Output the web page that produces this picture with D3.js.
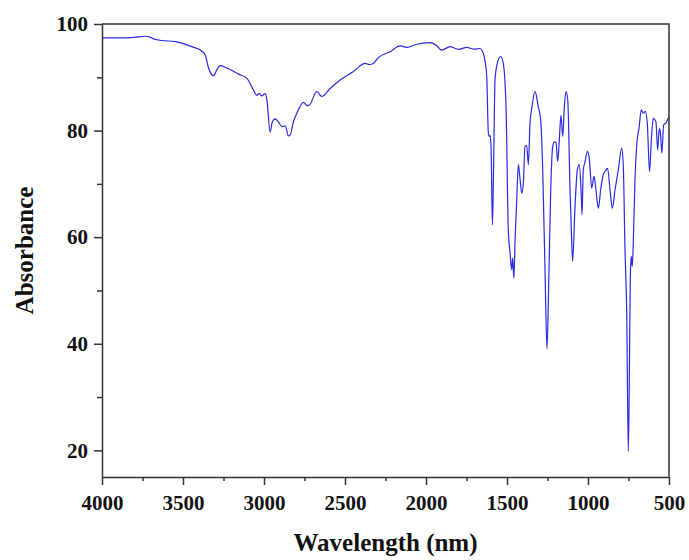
<!DOCTYPE html>
<html lang="en">
<head>
    <meta charset="UTF-8">
    <title>Absorbance spectrum</title>
    <style>
        html, body { margin: 0; padding: 0; background: #fff; }
        svg { display: block; }
        .tick text { font-family: "Liberation Serif", "Times New Roman", serif; font-weight: bold; }
    </style>
</head>
<body>
    <div id="chart-wrapper"></div>

    <script src="https://d3js.org/d3.v7.min.js"></script>
    <script>
        // values
        const wavenumber = [
            4000, 3900, 3800, 3733, 3700, 3682, 3630, 3548, 3445, 3383, 3363, 3342, 3325, 3311, 3290, 3270,
            3219, 3157, 3105, 3065, 3044, 3030, 3013, 2993, 2982, 2962, 2950, 2931, 2910, 2890, 2869, 2849,
            2838, 2818, 2797, 2756, 2735, 2720, 2674, 2643, 2592, 2530, 2448, 2376, 2350, 2325, 2294, 2221,
            2160, 2118, 2057, 1975, 1933, 1903, 1851, 1800, 1748, 1707, 1666, 1650, 1635, 1625, 1615, 1609,
            1604, 1598, 1590, 1584, 1574, 1560, 1539, 1523, 1506, 1492, 1481, 1471, 1465, 1458, 1450, 1440,
            1430, 1419, 1409, 1399, 1389, 1378, 1368, 1358, 1347, 1327, 1307, 1292, 1279, 1265, 1253, 1242,
            1230, 1218, 1208, 1197, 1187, 1177, 1167, 1156, 1146, 1136, 1125, 1111, 1101, 1095, 1080, 1066,
            1054, 1043, 1037, 1029, 1018, 1004, 992, 977, 963, 951, 936, 922, 906, 889, 879, 864,
            850, 833, 813, 792, 782, 772, 761, 751, 745, 739, 733, 727, 721, 710, 700, 684,
            671, 659, 646, 634, 620, 609, 597, 581, 570, 560, 552, 544, 533, 519, 505, 500
        ]
        const absorbance = [
            97.4, 97.4, 97.5, 97.7, 97.5, 97.2, 96.9, 96.7, 95.75, 94.9, 94.2, 91.7, 90.6, 90.3, 91.5, 92.2,
            91.6, 90.6, 89.8, 87.6, 86.6, 87.0, 86.5, 87.0, 85.75, 79.7, 81.5, 82.2, 81.6, 80.75, 80.9, 79.0,
            79.2, 81.7, 83.25, 85.3, 84.7, 84.8, 87.3, 86.4, 87.9, 89.5, 91.1, 92.6, 92.4, 92.6, 93.7, 94.8,
            95.9, 95.6, 96.2, 96.5, 95.9, 95.1, 95.75, 95.25, 95.6, 95.3, 95.4, 94.8, 93.0, 90.1, 79.5, 78.9,
            79.1, 76.4, 62.3, 70.75, 89.5, 92.6, 93.9, 92.6, 84.5, 61.4, 57, 53.9, 56.1, 52.3, 59.5, 67,
            73.6, 70.75, 68.25, 70.1, 77, 77.2, 73.6, 81.4, 84.2, 87.3, 84.5, 82, 72, 53.25, 39.0, 52,
            68.9, 77, 77.9, 77.7, 74.2, 78.25, 82.9, 78.9, 84.5, 87.3, 85.75, 68.9, 59.5, 55.5, 65.75, 72.6,
            73.6, 68.9, 64.2, 72.6, 74.2, 76.1, 74.8, 69.2, 71.4, 68.9, 65.4, 68.9, 71.7, 72.6, 72.9, 68.9,
            65.4, 68.9, 72.6, 76.7, 73.25, 58.25, 45.75, 19.8, 33.25, 52, 56.4, 54.5, 58.25, 70.75, 77, 80.75,
            83.9, 83.25, 83.6, 81.4, 72.3, 78.25, 82.3, 81.7, 76.4, 80.4, 79.2, 75.75, 81.1, 81.4, 82.3, 82.5
        ]
        const xTicks = [4000, 3500, 3000, 2500, 2000, 1500, 1000, 500]
        const xMinorTicks = [3750, 3250, 2750, 2250, 1750, 1250, 750]
        const yTicks = [20, 40, 60, 80, 100]
        const yMinorTicks = [30, 50, 70, 90]

        const width = 689
        const height = 560
        const margin = { top: 24, right: 20, bottom: 83, left: 102 }
        const axisColor = '#333'

        const svg = d3.select('#chart-wrapper')
            .append('svg')
            .attr('width', width)
            .attr('height', height)

        const x = d3.scaleLinear()
            .domain([4000, 500])
            .range([margin.left, width - margin.right])
        const y = d3.scaleLinear()
            .domain([15, 100])
            .range([height - margin.bottom, margin.top])

        const points = wavenumber.map((w, i) => [w, absorbance[i]])

        const line = d3.line()
            .x(d => x(d[0]))
            .y(d => y(d[1]))
            .curve(d3.curveMonotoneX)

        svg.append('path')
            .datum(points)
            .attr('fill', 'none')
            .attr('stroke', '#2a2ae2')
            .attr('stroke-width', 1.2)
            .attr('stroke-linejoin', 'round')
            .attr('d', line)

        // minor ticks first, then major axes on top
        svg.append('g')
            .attr('transform', `translate(0,${height - margin.bottom})`)
            .call(d3.axisBottom(x).tickValues(xMinorTicks).tickSize(4).tickFormat(''))
            .call(g => g.select('.domain').remove())
        svg.append('g')
            .attr('transform', `translate(${margin.left},0)`)
            .call(d3.axisLeft(y).tickValues(yMinorTicks).tickSize(5).tickFormat(''))
            .call(g => g.select('.domain').remove())

        const xAxis = svg.append('g')
            .attr('transform', `translate(0,${height - margin.bottom})`)
            .call(d3.axisBottom(x).tickValues(xTicks).tickSize(8).tickSizeOuter(0).tickPadding(10).tickFormat(d3.format('d')))
        const yAxis = svg.append('g')
            .attr('transform', `translate(${margin.left},0)`)
            .call(d3.axisLeft(y).tickValues(yTicks).tickSize(8).tickSizeOuter(0).tickPadding(6).tickFormat(d3.format('d')))

        svg.selectAll('.tick line').attr('stroke', axisColor).attr('stroke-width', 1.5)
        svg.selectAll('.domain').attr('stroke', axisColor).attr('stroke-width', 1.5)
        svg.selectAll('.tick text').attr('font-size', 21).attr('fill', '#111')

        // top and right frame
        svg.append('path')
            .attr('fill', 'none')
            .attr('stroke', axisColor)
            .attr('stroke-width', 1.5)
            .attr('d', `M${margin.left},${margin.top}H${width - margin.right}V${height - margin.bottom}`)

        svg.append('text')
            .attr('x', (margin.left + width - margin.right) / 2)
            .attr('y', 551)
            .attr('text-anchor', 'middle')
            .attr('font-family', '"Liberation Serif", "Times New Roman", serif')
            .attr('font-weight', 'bold')
            .attr('font-size', 25)
            .attr('fill', '#111')
            .text('Wavelength (nm)')

        svg.append('text')
            .attr('transform', `translate(33,${(margin.top + height - margin.bottom) / 2}) rotate(-90)`)
            .attr('text-anchor', 'middle')
            .attr('font-family', '"Liberation Serif", "Times New Roman", serif')
            .attr('font-weight', 'bold')
            .attr('font-size', 25)
            .attr('fill', '#111')
            .text('Absorbance')
    </script>
</body>
</html>
